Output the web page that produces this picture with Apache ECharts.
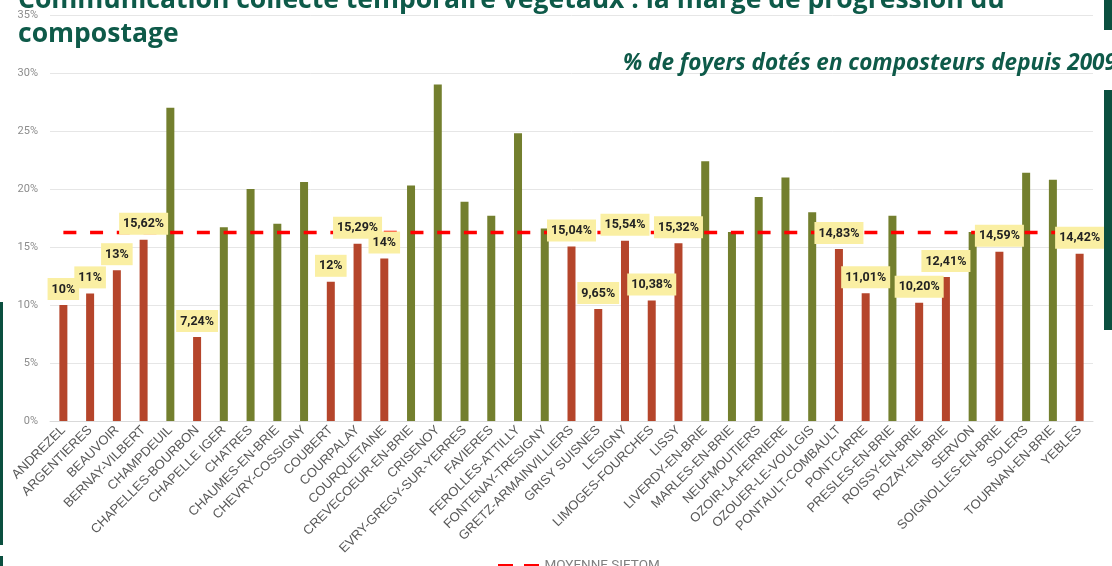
<!DOCTYPE html>
<html>
<head>
<meta charset="utf-8">
<script src="https://cdn.jsdelivr.net/npm/echarts@6/dist/echarts.min.js"></script>
<style>
html,body{margin:0;padding:0;background:#fff;}
#chart{width:1112px;height:566px;}
</style>
</head>
<body>
<div id="chart"></div>
<script>
const communes = ['ANDREZEL','ARGENTIERES','BEAUVOIR','BERNAY-VILBERT','CHAMPDEUIL','CHAPELLES-BOURBON','CHAPELLE IGER','CHATRES','CHAUMES-EN-BRIE','CHEVRY-COSSIGNY','COUBERT','COURPALAY','COURQUETAINE','CREVECOEUR-EN-BRIE','CRISENOY','EVRY-GREGY-SUR-YERRES','FAVIERES','FEROLLES-ATTILLY','FONTENAY-TRESIGNY','GRETZ-ARMAINVILLIERS','GRISY SUISNES','LESIGNY','LIMOGES-FOURCHES','LISSY','LIVERDY-EN-BRIE','MARLES-EN-BRIE','NEUFMOUTIERS','OZOIR-LA-FERRIERE','OZOUER-LE-VOULGIS','PONTAULT-COMBAULT','PONTCARRE','PRESLES-EN-BRIE','ROISSY-EN-BRIE','ROZAY-EN-BRIE','SERVON','SOIGNOLLES-EN-BRIE','SOLERS','TOURNAN-EN-BRIE','YEBLES'];
const tauxFoyers = [10, 11, 13, 15.62, 27.0, 7.24, 16.7, 20.0, 17.0, 20.6, 12, 15.29, 14, 20.3, 29.0, 18.9, 17.7, 24.8, 16.6, 15.04, 9.65, 15.54, 10.38, 15.32, 22.4, 16.3, 19.3, 21.0, 18.0, 14.83, 11.01, 17.7, 10.20, 12.41, 16.3, 14.59, 21.4, 20.8, 14.42];
const moyenneSietom = 16.24;
const yTicks = [0, 5, 10, 15, 20, 25, 30, 35];

const RED = '#B5452B', GREEN = '#737F2E', DARK = '#0E5A49';
const fmt = v => (Number.isInteger(v) ? String(v) : v.toFixed(2).replace('.', ',')) + '%';

const chart = echarts.init(document.getElementById('chart'), null, {renderer: 'canvas'});
chart.setOption({
  animation: false,
  backgroundColor: '#fff',
  title: [{
    text: 'Communication collecte temporaire végétaux : la marge de progression du\ncompostage',
    left: 13, top: -22,
    textStyle: {fontFamily: 'Open Sans', fontWeight: 'bold', fontSize: 26.5, lineHeight: 34, color: DARK}
  }, {
    text: '% de foyers dotés en composteurs depuis 2009',
    left: 618, top: 48,
    textStyle: {fontFamily: 'Open Sans', fontWeight: 'bold', fontStyle: 'italic', fontSize: 22.5, lineHeight: 22, color: DARK}
  }],
  graphic: [
    {type: 'rect', left: 0, top: 302, shape: {width: 3, height: 243}, style: {fill: '#0B4F3F'}, z: 10},
    {type: 'rect', left: 0, top: 556, shape: {width: 3, height: 10}, style: {fill: '#0B4F3F'}, z: 10},
    {type: 'rect', left: 1104, top: 0, shape: {width: 8, height: 30}, style: {fill: '#0B4F3F'}, z: 10},
    {type: 'rect', left: 1104, top: 90, shape: {width: 8, height: 240}, style: {fill: '#0B4F3F'}, z: 10}
  ],
  legend: {
    data: [{name: 'MOYENNE SIETOM', icon: 'path://M0,0H15V4H0Z M26,0H41V4H26Z', itemStyle: {color: '#FF0000'}}],
    left: 493, top: 554, itemWidth: 42, itemHeight: 4, itemGap: 4,
    textStyle: {fontFamily: 'Roboto', fontSize: 13.5, color: '#7f7f7f'}
  },
  grid: {left: 50, right: 19, top: 15, bottom: 145, containLabel: false},
  xAxis: {
    type: 'category', data: communes,
    axisLine: {lineStyle: {color: '#d9d9d9'}},
    axisTick: {show: false},
    axisLabel: {rotate: 45, interval: 0, margin: 7, fontFamily: 'Liberation Sans', fontSize: 13, color: '#595959'}
  },
  yAxis: {
    type: 'value', min: yTicks[0], max: yTicks[yTicks.length - 1], interval: 5,
    axisLine: {show: false}, axisTick: {show: false},
    axisLabel: {formatter: '{value}%', margin: 12, fontFamily: 'Roboto', fontSize: 11, color: '#8c8c8c'},
    splitLine: {lineStyle: {color: '#e6e6e6', width: 1}}
  },
  series: [{
    name: 'Taux',
    type: 'bar', barWidth: 8, z: 2,
    data: tauxFoyers.map(v => ({value: v, itemStyle: {color: v < moyenneSietom ? RED : GREEN}}))
  }, {
    name: 'MOYENNE SIETOM',
    type: 'line', z: 3, symbol: 'none',
    data: communes.map(() => moyenneSietom),
    lineStyle: {color: '#FF0000', width: 3.5, type: [13, 13.7]}
  }, {
    name: 'labels',
    type: 'bar', barWidth: 8, barGap: '-100%', z: 4,
    itemStyle: {color: 'rgba(0,0,0,0)'},
    data: tauxFoyers.map(v => ({
      value: v,
      label: {
        show: v < moyenneSietom, position: 'top', distance: 5,
        formatter: p => fmt(p.value),
        backgroundColor: '#FAEFA3', padding: [5, 4, 4, 4],
        fontFamily: 'Roboto', fontWeight: 'bold', fontSize: 12.5, color: '#222'
      }
    }))
  }]
});
</script>
</body>
</html>
